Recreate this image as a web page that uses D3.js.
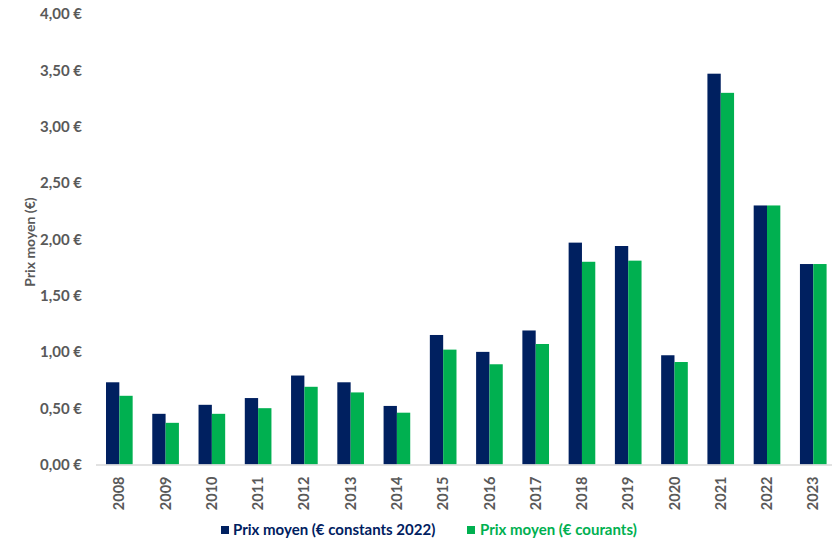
<!DOCTYPE html>
<html><head><meta charset="utf-8">
<script src="https://cdn.jsdelivr.net/npm/d3@7"></script>
<style>body{margin:0;background:#fff}svg{display:block}text{font-family:Lato,"Open Sans",sans-serif}</style>
</head><body><svg id="c" width="832" height="549"></svg>
<script>
const years = ["2008","2009","2010","2011","2012","2013","2014","2015","2016","2017","2018","2019","2020","2021","2022","2023"];
const constants2022 = [0.73,0.45,0.53,0.59,0.79,0.73,0.52,1.15,1.00,1.19,1.97,1.94,0.97,3.47,2.30,1.78];
const courants = [0.61,0.37,0.45,0.50,0.69,0.64,0.46,1.02,0.89,1.07,1.80,1.81,0.91,3.30,2.30,1.78];
const seriesNames = ["Prix moyen (€ constants 2022)","Prix moyen (€ courants)"];
const colors = ["#002060","#00B050"];
const yTicks = [0,0.5,1,1.5,2,2.5,3,3.5,4];

const svg = d3.select("#c");
const x = d3.scaleBand().domain(years).range([96.2,836.4]).paddingInner(0.424).paddingOuter(0.212);
const x1 = d3.scaleBand().domain([0,1]).range([0,x.bandwidth()]);
const y = d3.scaleLinear().domain([0,4]).range([464.5,14]);
const fmt = v => d3.format(".2f")(v).replace(".",",") + " €";

const data = [constants2022, courants];
years.forEach((yr,i)=>{
  data.forEach((s,k)=>{
    svg.append("rect").attr("x",x(yr)+x1(k)).attr("width",x1.bandwidth())
      .attr("y",y(s[i])).attr("height",y(0)-y(s[i])).attr("fill",colors[k]);
  });
});

// y axis
const ya = svg.append("g").attr("transform","translate(82,0)")
  .call(d3.axisLeft(y).tickValues(yTicks).tickFormat(fmt).tickSize(0).tickPadding(0));
ya.select(".domain").remove();
ya.selectAll("text").attr("fill","#595959").attr("font-size",15).attr("font-weight","bold").style("font-family","Lato");

// baseline
svg.append("line").attr("x1",96).attr("x2",832).attr("y1",y(0)+0.5).attr("y2",y(0)+0.5).attr("stroke","#D9D9D9").attr("stroke-width",1.5);

// x axis
const xa = svg.append("g").attr("transform",`translate(0,${y(0)})`)
  .call(d3.axisBottom(x).tickSize(0).tickPadding(0));
xa.select(".domain").remove();
xa.selectAll("text").attr("fill","#595959").attr("font-size",14.5).attr("font-weight","bold").style("font-family","Lato")
  .attr("transform","rotate(-90)").attr("text-anchor","end").attr("dy","0.35em").attr("x",-12).attr("y",0);

// y title
svg.append("text").attr("transform","translate(30,242) rotate(-90)").attr("text-anchor","middle").attr("dy","0.35em")
  .attr("fill","#595959").attr("font-size",14).attr("font-weight","bold").text("Prix moyen (€)");

// legend
const leg = [[221,233],[467,480]];
seriesNames.forEach((n,k)=>{
  svg.append("rect").attr("x",leg[k][0]).attr("y",526).attr("width",8).attr("height",8).attr("fill",colors[k]);
  svg.append("text").attr("x",leg[k][1]).attr("y",530).attr("dy","0.35em").attr("fill",colors[k])
    .attr("font-size",15).attr("font-weight","bold").text(n);
});
</script></body></html>
